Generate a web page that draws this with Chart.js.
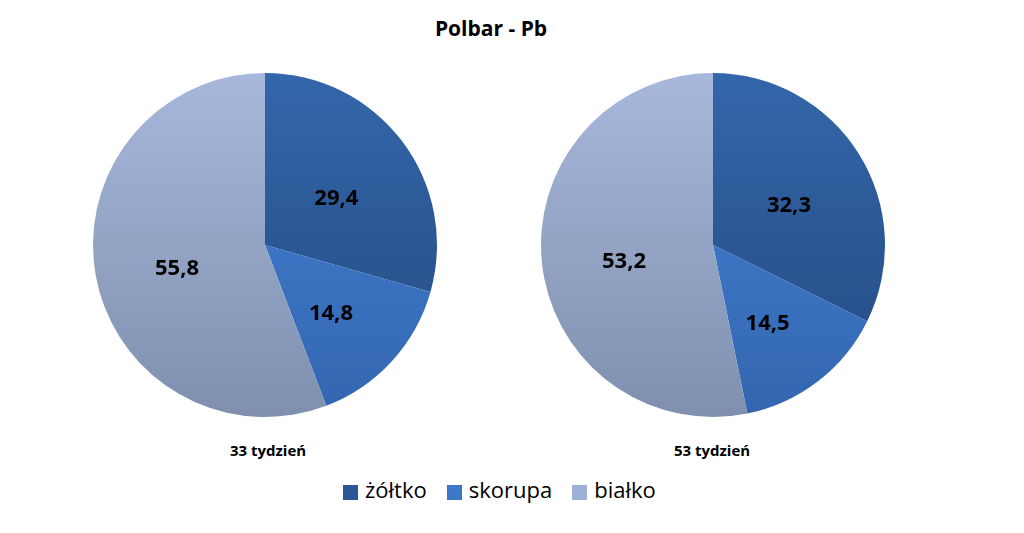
<!DOCTYPE html>
<html><head><meta charset="utf-8">
<script src="https://cdn.jsdelivr.net/npm/chart.js@4"></script>
<style>
body{margin:0;width:1024px;height:533px;background:#fff;position:relative;font-family:"Open Sans",sans-serif;overflow:hidden}
.c{position:absolute;width:344px;height:344px}
.t{position:absolute;font-weight:bold;color:#000;transform:translateX(-50%);white-space:nowrap}
#legend{position:absolute;left:343px;top:474px;font-size:22px;display:flex;gap:20px;align-items:center}
#legend span.b{display:inline-block;width:15px;height:15px;margin-right:7px;vertical-align:middle}
</style></head><body>
<div class="t" style="left:491px;top:14px;font-size:21px">Polbar - Pb</div>
<div class="c" style="left:93px;top:73px"><canvas id="p1"></canvas></div>
<div class="c" style="left:541px;top:73px"><canvas id="p2"></canvas></div>
<div class="t" style="left:268px;top:440px;font-size:15px">33 tydzień</div>
<div class="t" style="left:712px;top:440px;font-size:15px">53 tydzień</div>
<div id="legend"></div>
<script>
const categories = ['żółtko', 'skorupa', 'białko'];
const week33 = [29.4, 14.8, 55.8];
const week53 = [32.3, 14.5, 53.2];
const chartLabels = ['33 tydzień', '53 tydzień'];

const grads = [['#3366aa', '#234a80'], ['#4282d6', '#3466b0'], ['#a8b8dc', '#7f8fae']];
const legendColors = ['#2b5797', '#3d78c6', '#9fb0d6'];

const lg = document.getElementById('legend');
categories.forEach((c, i) => {
  lg.insertAdjacentHTML('beforeend', '<div><span class="b" style="background:' + legendColors[i] + '"></span>' + c + '</div>');
});

const valueLabels = {
  id: 'valueLabels',
  afterDatasetsDraw(chart) {
    const ctx = chart.ctx;
    const meta = chart.getDatasetMeta(0);
    ctx.save();
    ctx.font = 'bold 22px "Open Sans", sans-serif';
    ctx.fillStyle = '#000';
    ctx.textAlign = 'center';
    ctx.textBaseline = 'middle';
    meta.data.forEach((arc, i) => {
      const a = (arc.startAngle + arc.endAngle) / 2;
      const r = arc.outerRadius * 0.52;
      ctx.fillText(String(chart.data.datasets[0].data[i]).replace('.', ','), arc.x + Math.cos(a) * r, arc.y + Math.sin(a) * r + 8);
    });
    ctx.restore();
  }
};

function makePie(id, data) {
  new Chart(document.getElementById(id), {
    type: 'pie',
    data: {
      labels: categories,
      datasets: [{
        data: data,
        borderWidth: 0,
        backgroundColor: (c) => {
          const area = c.chart.chartArea;
          if (!area) return legendColors[c.dataIndex];
          const g = c.chart.ctx.createLinearGradient(0, area.top, 0, area.bottom);
          g.addColorStop(0, grads[c.dataIndex][0]);
          g.addColorStop(1, grads[c.dataIndex][1]);
          return g;
        }
      }]
    },
    options: {
      responsive: true, maintainAspectRatio: false, animation: false,
      layout: { padding: 0 },
      plugins: { legend: { display: false }, tooltip: { enabled: false } }
    },
    plugins: [valueLabels]
  });
}
makePie('p1', week33);
makePie('p2', week53);
</script>
</body></html>
